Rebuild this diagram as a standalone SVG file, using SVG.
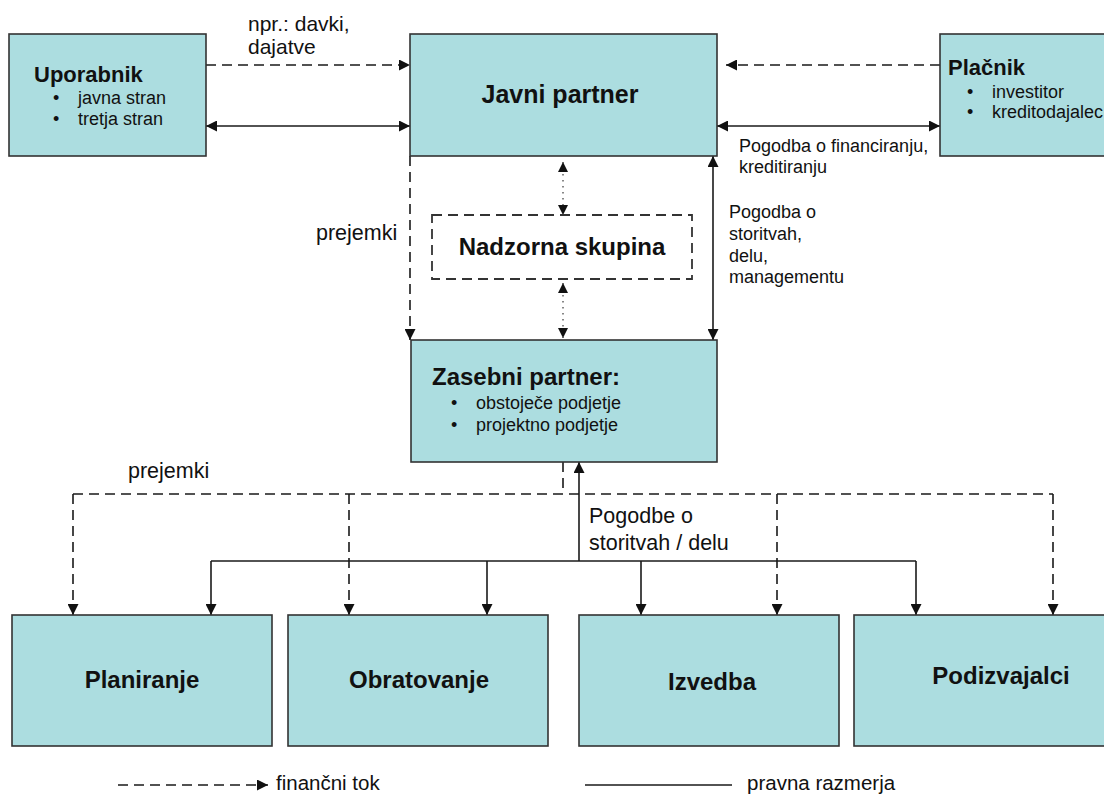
<svg xmlns="http://www.w3.org/2000/svg" width="1104" height="796" viewBox="0 0 1104 796">
  <defs>
    <marker id="arr" viewBox="0 0 10 10" refX="10" refY="5" markerWidth="12" markerHeight="11" markerUnits="userSpaceOnUse" orient="auto-start-reverse">
      <path d="M0,0 L10,5 L0,10 z" fill="#111"/>
    </marker>
    <marker id="arrs" viewBox="0 0 10 10" refX="10" refY="5" markerWidth="10" markerHeight="10" markerUnits="userSpaceOnUse" orient="auto-start-reverse">
      <path d="M0,0 L10,5 L0,10 z" fill="#111"/>
    </marker>
  </defs>
  <style>
    .box { fill: #acdde0; stroke: #333; stroke-width: 1.6; }
    .grp { fill: #fff; stroke: #333; stroke-width: 1.8; stroke-dasharray: 10 6; }
    .solid { fill: none; stroke: #1a1a1a; stroke-width: 1.6; }
    .dash { fill: none; stroke: #1a1a1a; stroke-width: 1.6; stroke-dasharray: 10 6; }
    .dot { fill: none; stroke: #555; stroke-width: 1.4; stroke-dasharray: 1.5 4.5; }
    text { font-family: "Liberation Sans", Arial, sans-serif; fill: #111; }
    .title { font-weight: bold; font-size: 24px; }
    .sm { font-size: 18px; }
    .lbl { font-size: 21.5px; }
    .leg { font-size: 20.5px; }
  </style>

  <rect width="1104" height="796" fill="#fff"/>

  <!-- connectors -->
  <g id="connectors">
    <path class="dash" d="M206,65 H410" marker-end="url(#arr)"/>
    <path class="solid" d="M206,126 H410" marker-start="url(#arr)" marker-end="url(#arr)"/>
    <path class="dash" d="M940,65 H726" marker-end="url(#arr)"/>
    <path class="solid" d="M717,126 H940" marker-start="url(#arr)" marker-end="url(#arr)"/>
    <path class="dash" d="M410,156 V340" marker-end="url(#arr)"/>
    <path class="solid" d="M713,156 V340" marker-start="url(#arr)" marker-end="url(#arr)"/>
    <path class="dot" d="M563,162 V215" marker-start="url(#arrs)" marker-end="url(#arrs)"/>
    <path class="dot" d="M563,283 V338" marker-start="url(#arrs)" marker-end="url(#arrs)"/>

    <!-- payments down to the contractors -->
    <path class="dash" d="M563,462 V494"/>
    <path class="dash" d="M73,494 H1053"/>
    <path class="dash" d="M73,494 V615" marker-end="url(#arr)"/>
    <path class="dash" d="M349,494 V615" marker-end="url(#arr)"/>
    <path class="dash" d="M777,494 V615" marker-end="url(#arr)"/>
    <path class="dash" d="M1053,494 V615" marker-end="url(#arr)"/>

    <!-- contracts with the contractors -->
    <path class="solid" d="M579,561 V462" marker-end="url(#arr)"/>
    <path class="solid" d="M211,561 H916"/>
    <path class="solid" d="M211,561 V615" marker-end="url(#arr)"/>
    <path class="solid" d="M487,561 V615" marker-end="url(#arr)"/>
    <path class="solid" d="M641,561 V615" marker-end="url(#arr)"/>
    <path class="solid" d="M916,561 V615" marker-end="url(#arr)"/>
  </g>

  <!-- connector labels -->
  <g id="labels">
    <text class="lbl" x="248" y="31" style="font-size:21px">npr.: davki,</text>
    <text class="lbl" x="248" y="54" style="font-size:21px">dajatve</text>
    <text class="sm" x="739" y="152">Pogodba o financiranju,</text>
    <text class="sm" x="739" y="173">kreditiranju</text>
    <text class="sm" x="729" y="218">Pogodba o</text>
    <text class="sm" x="729" y="240">storitvah,</text>
    <text class="sm" x="729" y="262">delu,</text>
    <text class="sm" x="729" y="283">managementu</text>
    <text class="lbl" x="316" y="240">prejemki</text>
    <text class="lbl" x="128" y="478">prejemki</text>
    <text class="lbl" x="589" y="523">Pogodbe o</text>
    <text class="lbl" x="589" y="550">storitvah / delu</text>
  </g>

  <g id="uporabnik">
    <rect class="box" x="9" y="34" width="197" height="122"/>
    <text class="title" x="34" y="82" style="font-size:22px">Uporabnik</text>
    <text class="sm" x="53" y="104">•</text>
    <text class="sm" x="78" y="104">javna stran</text>
    <text class="sm" x="53" y="125">•</text>
    <text class="sm" x="78" y="125">tretja stran</text>
  </g>

  <g id="javni-partner">
    <rect class="box" x="410" y="34" width="307" height="122"/>
    <text class="title" x="560" y="103" text-anchor="middle" style="font-size:25px">Javni partner</text>
  </g>

  <g id="placnik">
    <rect class="box" x="940" y="34" width="180" height="122"/>
    <text class="title" x="948" y="75" style="font-size:22px">Plačnik</text>
    <text class="sm" x="967" y="98">•</text>
    <text class="sm" x="992" y="98">investitor</text>
    <text class="sm" x="967" y="118">•</text>
    <text class="sm" x="992" y="118">kreditodajalec</text>
  </g>

  <g id="nadzorna-skupina">
    <rect class="grp" x="432" y="215" width="260" height="64"/>
    <text class="title" x="562" y="255" text-anchor="middle">Nadzorna skupina</text>
  </g>

  <g id="zasebni-partner">
    <rect class="box" x="411" y="340" width="306" height="122"/>
    <text class="title" x="432" y="385">Zasebni partner:</text>
    <text class="sm" x="451" y="409">•</text>
    <text class="sm" x="476" y="409">obstoječe podjetje</text>
    <text class="sm" x="451" y="431">•</text>
    <text class="sm" x="476" y="431">projektno podjetje</text>
  </g>

  <g id="planiranje">
    <rect class="box" x="12" y="615" width="260" height="131"/>
    <text class="title" x="142" y="688" text-anchor="middle">Planiranje</text>
  </g>

  <g id="obratovanje">
    <rect class="box" x="288" y="615" width="260" height="131"/>
    <text class="title" x="419" y="688" text-anchor="middle">Obratovanje</text>
  </g>

  <g id="izvedba">
    <rect class="box" x="579" y="615" width="260" height="131"/>
    <text class="title" x="712" y="690" text-anchor="middle">Izvedba</text>
  </g>

  <g id="podizvajalci">
    <rect class="box" x="854" y="615" width="270" height="131"/>
    <text class="title" x="1001" y="684" text-anchor="middle">Podizvajalci</text>
  </g>

  <g id="legend">
    <path class="dash" d="M118,785 H268" marker-end="url(#arr)"/>
    <text class="leg" x="276" y="790">finančni tok</text>
    <path class="solid" d="M585,785 H732"/>
    <text class="leg" x="747" y="790">pravna razmerja</text>
  </g>
</svg>
